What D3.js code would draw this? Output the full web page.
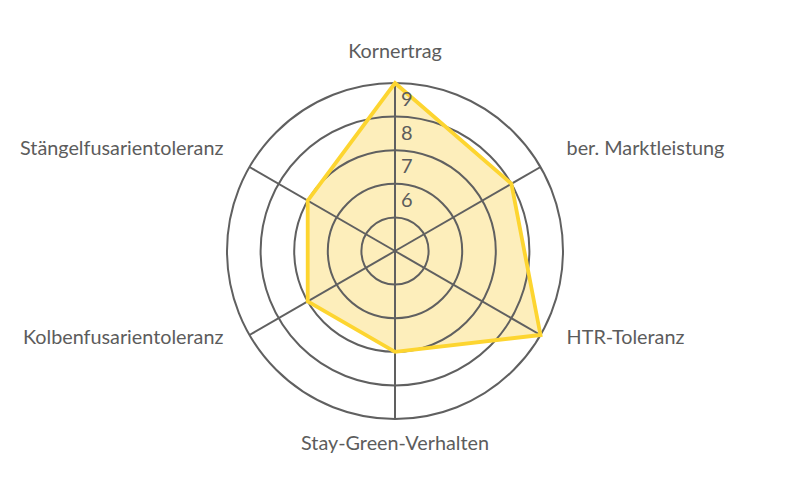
<!DOCTYPE html>
<html><head><meta charset="utf-8">
<script src="https://cdn.jsdelivr.net/npm/d3@7"></script>
<style>
html,body{margin:0;padding:0;background:#fff;}
svg{display:block;}
text{font-family:"Lato","Open Sans",sans-serif;fill:#5c5c5c;}
</style></head>
<body>
<svg id="chart" width="791" height="500"></svg>
<script>
const categories = ["Kornertrag","ber. Marktleistung","HTR-Toleranz","Stay-Green-Verhalten","Kolbenfusarientoleranz","Stängelfusarientoleranz"];
const values = [9, 8, 9, 7, 7, 7];
const ringValues = [5, 6, 7, 8, 9];
const tickLabels = ["6", "7", "8", "9"];

const W = 791, H = 500, cx = 395, cy = 251;
const svg = d3.select("#chart");
const g = svg.append("g").attr("transform", `translate(${cx},${cy})`);

const r = d3.scaleLinear().domain([4, 9]).range([0, 168]);
const angle = d3.scalePoint().domain(categories).range([0, 2*Math.PI*(categories.length-1)/categories.length]);

const line = d3.lineRadial().angle((d,i) => angle(categories[i])).radius(d => r(d)).curve(d3.curveLinearClosed);

// area fill (below grid)
g.append("path").datum(values).attr("d", line)
  .attr("fill","#fdeebb").attr("stroke","none");

// rings
g.selectAll("circle.ring").data(ringValues).join("circle")
  .attr("class","ring").attr("r", d => r(d))
  .attr("fill","none").attr("stroke","#606060").attr("stroke-width",2);

// spokes
g.selectAll("line.spoke").data(categories).join("line")
  .attr("x1",0).attr("y1",0)
  .attr("x2", d => r(9)*Math.sin(angle(d)))
  .attr("y2", d => -r(9)*Math.cos(angle(d)))
  .attr("stroke","#606060").attr("stroke-width",2);

// area outline
g.append("path").datum(values).attr("d", line)
  .attr("fill","none")
  .attr("stroke","#fdd530").attr("stroke-width",3.8).attr("stroke-linejoin","miter");

// tick labels
g.selectAll("text.tick").data(tickLabels).join("text")
  .attr("class","tick")
  .attr("x", 6).attr("y", d => -r(+d) + 23)
  .attr("font-size", 20)
  .text(d => d);

// category labels
const LR = 197;
const dyByIdx = i => {
  const c = Math.cos(angle(categories[i]));
  if (c > 0.99) return 4;
  if (c < -0.99) return 2;
  if (c > 0) return 2;
  return -6;
};
g.selectAll("text.cat").data(categories).join("text")
  .attr("class","cat")
  .attr("x", d => LR*Math.sin(angle(d)) + (Math.abs(Math.sin(angle(d)))<0.01 ? 0 : (Math.sin(angle(d))>0 ? 1 : -1)))
  .attr("y", (d,i) => -LR*Math.cos(angle(d)) + dyByIdx(i))
  .attr("text-anchor", d => { const s = Math.sin(angle(d)); return Math.abs(s)<0.01 ? "middle" : (s>0 ? "start" : "end"); })
  .attr("font-size", 19.8)
  .text(d => d);
</script>
</body></html>
